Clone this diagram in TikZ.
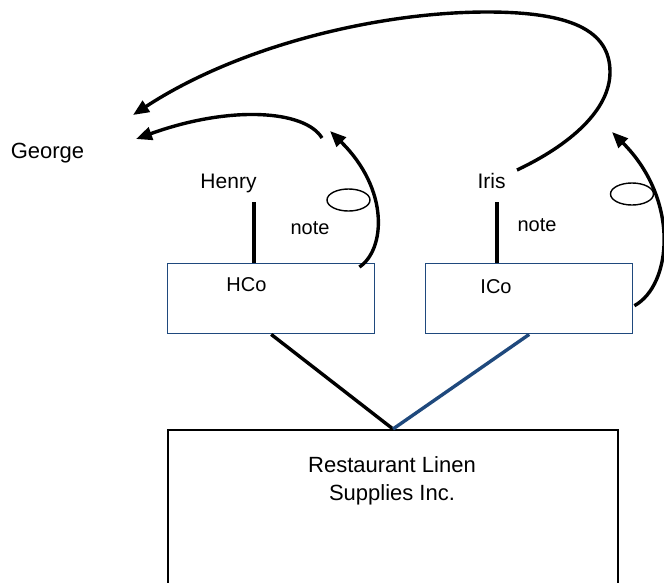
\documentclass[tikz,border=0pt]{standalone}
\usepackage{fontspec}
\setmainfont{Liberation Sans}
\usepackage{tikz}
\usetikzlibrary{shapes.geometric, arrows.meta, positioning, calc}
\definecolor{navy}{RGB}{31,73,125}
\tikzset{
  cobox/.style   = {rectangle, draw=navy, line width=1.4pt, minimum width=207pt,
                    minimum height=70pt, anchor=north west, inner sep=0pt},
  bigbox/.style  = {rectangle, draw, line width=2pt, minimum width=450pt,
                    minimum height=220pt, anchor=north west, inner sep=0pt},
  persontxt/.style = {anchor=base, inner sep=0pt, font=\fontsize{21}{25}\selectfont},
  smalltxt/.style  = {anchor=base, inner sep=0pt, font=\fontsize{20}{24}\selectfont},
  bigtxt/.style    = {anchor=base, inner sep=0pt, font=\fontsize{22}{27}\selectfont},
  oval/.style    = {ellipse, draw, line width=1.4pt, minimum width=43pt,
                    minimum height=22pt, inner sep=0pt},
  link/.style    = {line width=3.4pt},
  arrow/.style   = {line width=3.4pt, -{Triangle[length=16pt,width=13pt]}},
}

\begin{document}
\begin{tikzpicture}[x=1pt, y=1pt]

    \useasboundingbox (0,0) rectangle (664,-582);
    \clip (0,0) rectangle (664,-582);

    %% People
    \node[bigtxt]    (george) at ( 47.5,-158) {George};
    \node[persontxt] (henry)  at (228.5,-188) {Henry};
    \node[persontxt] (iris)   at (491.5,-188) {Iris};

    %% Companies
    \node[cobox] (hbox) at (167,-263) {};
    \node[cobox] (ibox) at (425,-263) {};
    \node[smalltxt] (hco) at (246.5,-291) {HCo};
    \node[smalltxt] (ico) at (496,-293) {ICo};

    \node[bigbox] (rls) at (167,-429) {};
    \node[bigtxt] (rlsa) at (392,-472) {Restaurant Linen};
    \node[bigtxt] (rlsb) at (392,-500) {Supplies Inc.};

    %% Notes
    \node[smalltxt] (note1) at (310,-234) {note};
    \node[smalltxt] (note2) at (537,-231) {note};
    \node[oval] (oval1) at (348.5,-200) {};
    \node[oval] (oval2) at (632,-194) {};

    %% Ownership lines
    \coordinate (hl) at (254,-202);
    \coordinate (il) at (497,-202);
    \draw[link] (hl) -- (hl |- hbox.north);
    \draw[link] (il) -- (il |- ibox.north);
    \draw[link] (hbox.south) -- (rls.north);
    \draw[link, draw=navy] (ibox.south) -- (rls.north);

    %% Transfers
    \coordinate (ga) at (133,-115);
    \coordinate (gb) at (136,-139);
    \coordinate (ia) at (517,-170);
    \coordinate (hb) at (322,-138);
    \coordinate (hc) at (330,-131);
    \coordinate (ic) at (612,-132);

    \draw[arrow] (ia) .. controls (570,-145) and (610,-110) .. (610,-72)
                      .. controls (610,-30) and (570,-12) .. (487,-12)
                      .. controls (380,-12) and (240,-45) .. (ga);
    \draw[arrow] (hb) .. controls (305,-110) and (230,-105) .. (gb);
    \draw[arrow] ($(hbox.north east)+(-16,-4)$) .. controls (385,-250) and (390,-190) .. (hc);
    \draw[arrow] ($(ibox.east)+(1,-7)$) .. controls (672,-285) and (680,-200) .. (ic);

\end{tikzpicture}
\end{document}
